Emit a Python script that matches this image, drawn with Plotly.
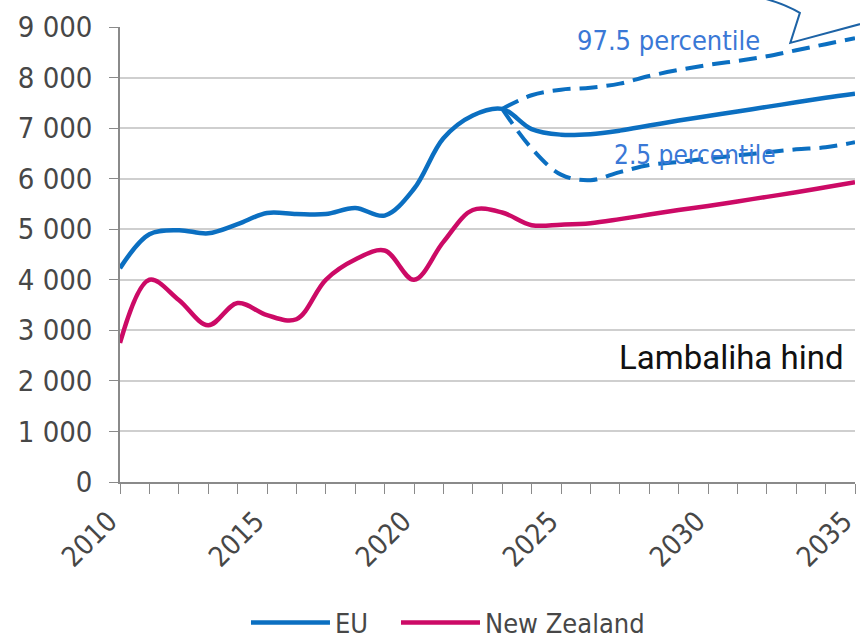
import plotly.graph_objects as go

years = list(range(2010, 2036))
eu = [4230, 4900, 4980, 4920, 5100, 5320, 5300, 5300, 5420, 5270, 5800, 6800, 7250, 7380,
      6980, 6870, 6880, 6950, 7050, 7150, 7240, 7330, 7420, 7510, 7600, 7680]
nz = [2750, 4000, 3600, 3100, 3540, 3300, 3220, 4000, 4400, 4580, 4000, 4750, 5380, 5330,
      5080, 5090, 5120, 5200, 5290, 5380, 5460, 5550, 5640, 5730, 5830, 5930]
proj_years = list(range(2023, 2036))
p975 = [7380, 7650, 7760, 7800, 7880, 8030, 8150, 8250, 8330, 8420, 8540, 8660, 8780]
p025 = [7380, 6600, 6080, 5970, 6130, 6270, 6330, 6400, 6460, 6520, 6580, 6620, 6720]

EU_C = "#0b6fc1"
NZ_C = "#cc0a66"
PCT_C = "#3a78d6"
FONT = "DejaVu Sans Condensed, Liberation Sans Narrow, DejaVu Sans, sans-serif"

fig = go.Figure()
fig.add_trace(go.Scatter(x=proj_years, y=p975, mode="lines", showlegend=False,
                         line=dict(color=EU_C, width=4, dash="18px,9px", shape="spline")))
fig.add_trace(go.Scatter(x=proj_years, y=p025, mode="lines", showlegend=False,
                         line=dict(color=EU_C, width=4, dash="18px,9px", shape="spline")))
fig.add_trace(go.Scatter(x=years, y=eu, mode="lines", name="EU", legend="legend",
                         line=dict(color=EU_C, width=4.5, shape="spline")))
fig.add_trace(go.Scatter(x=years, y=nz, mode="lines", name="New Zealand", legend="legend2",
                         line=dict(color=NZ_C, width=4.5, shape="spline")))

fig.add_annotation(x=2028.65, y=8730, text="97.5 percentile", showarrow=False,
                   font=dict(family=FONT, size=27, color=PCT_C))
fig.add_annotation(x=2029.55, y=6470, text="2.5 percentile", showarrow=False,
                   font=dict(family=FONT, size=26, color=PCT_C))
fig.add_annotation(x=0.988, xref="paper", xanchor="right", y=2460, text="Lambaliha hind",
                   showarrow=False, font=dict(family="Roboto", size=33, color="#111111"))

# callout outline (partial) at top right
fig.add_shape(type="path", xref="paper", yref="paper",
              path="M 0.878,1.062 Q 0.905,1.05 0.925,1.031 L 0.912,0.965 L 1.02,1.012",
              line=dict(color="#1d63a6", width=2), fillcolor="rgba(0,0,0,0)")

leg_common = dict(orientation="h", xanchor="left", y=-0.31, yanchor="middle",
                  font=dict(family=FONT, size=27, color="#474747"), itemwidth=79,
                  bgcolor="rgba(0,0,0,0)")

fig.update_layout(
    width=860, height=639,
    margin=dict(l=120, r=5, t=27, b=157, autoexpand=False),
    paper_bgcolor="white", plot_bgcolor="white",
    font=dict(family=FONT, size=29, color="#474747"),
    legend=dict(x=0.1714, **leg_common),
    legend2=dict(x=0.3755, **leg_common),
    xaxis=dict(range=[2010, 2035], tickmode="linear", tick0=2010, dtick=5,
               tickangle=-45, ticks="outside", ticklen=10, tickcolor="#8a8a8a",
               showline=True, linecolor="#8a8a8a", linewidth=1.5, showgrid=False,
               zeroline=False, ticklabeloverflow="allow", ticklabelshift=-11,
               minor=dict(dtick=1, ticks="outside", ticklen=10, tickcolor="#8a8a8a", showgrid=False),
               tickfont=dict(family=FONT, size=28, color="#474747")),
    yaxis=dict(range=[0, 9000], tickmode="linear", tick0=0, dtick=1000,
               ticks="outside", ticklen=9, tickcolor="#8a8a8a",
               showline=True, linecolor="#8a8a8a", linewidth=1.5,
               showgrid=True, gridcolor="#cfcfcf", gridwidth=1.5, zeroline=False,
               separatethousands=True, tickformat=",d", ticklabelstandoff=11,
               tickfont=dict(family=FONT, size=29, color="#474747")),
    separators=". ",
)

fig.write_html("out.html", config={"displayModeBar": False},
               post_script="document.body.style.margin='0';document.body.style.overflow='hidden';")
